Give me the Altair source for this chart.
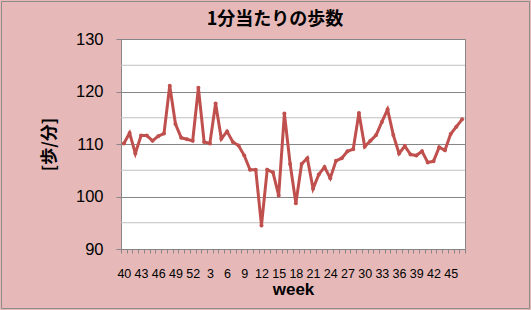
import json
import altair as alt
import pandas as pd

weeks = [40, 41, 42, 43, 44, 45, 46, 47, 48, 49, 50, 51, 52,
         1, 2, 3, 4, 5, 6, 7, 8, 9, 10, 11, 12, 13, 14, 15, 16, 17, 18, 19, 20,
         21, 22, 23, 24, 25, 26, 27, 28, 29, 30, 31, 32, 33, 34, 35, 36, 37, 38,
         39, 40, 41, 42, 43, 44, 45, 46, 47]
steps = [110.1, 112.1, 108.2, 111.6, 111.6, 110.6, 111.5, 112.0, 121.1, 113.8,
         111.2, 110.9, 110.6,
         120.7, 110.4, 110.1, 117.7, 111.0, 112.4, 110.4, 109.7, 107.8, 105.1,
         105.1, 94.5, 105.1, 104.6, 100.2, 115.8, 106.2, 98.7, 106.2, 107.3,
         101.5, 104.2, 105.6, 103.5, 106.8, 107.3, 108.6, 109.0, 115.9, 109.5,
         110.6, 111.7, 114.2, 116.6, 111.7, 108.2, 109.6, 108.0, 107.8, 108.6,
         106.5, 106.7, 109.4, 108.8, 111.9, 113.3, 114.7]
major_ticks = [90, 100, 110, 120, 130]
minor_grid = [95, 105, 115, 125]

df = pd.DataFrame({"idx": list(range(len(weeks))), "week": weeks, "steps": steps})
labels_js = json.dumps([str(w) for w in weeks])

LINE = "#C0504D"
GRID = "#868686"
MINOR = "#BFBFBF"

x_enc = alt.X(
    "idx:O",
    scale=alt.Scale(type="band", paddingInner=0, paddingOuter=0),
    axis=alt.Axis(
        title="week",
        labelExpr=f"datum.value % 3 == 0 ? {labels_js}[datum.value] : ''",
        labelAngle=0,
        labelOverlap=False,
        tickBand="extent",
        tickSize=4,
        tickColor=GRID,
        domainColor=GRID,
        labelFont="Liberation Sans",
        labelFontSize=12.5,
        labelColor="#000000",
        labelPadding=14,
        titleFont="Liberation Sans",
        titleFontSize=17,
        titleFontWeight="bold",
        titleColor="#000000",
        titlePadding=2,
        grid=False,
    ),
)

y_scale = alt.Scale(domain=[90, 130], nice=False, zero=False)

line = alt.Chart(df).mark_line(
    color=LINE, strokeWidth=3,
    point=alt.OverlayMarkDef(color=LINE, filled=True, size=16),
).encode(
    x=x_enc,
    y=alt.Y(
        "steps:Q",
        scale=y_scale,
        axis=alt.Axis(
            values=major_ticks,
            title="[歩/分]",
            grid=True,
            gridColor=GRID,
            tickSize=5,
            tickColor=GRID,
            domainColor=GRID,
            labelFont="Liberation Sans",
            labelFontSize=16.5,
            labelColor="#000000",
            labelPadding=13,
            titleFont="Noto Sans CJK JP",
            titleFontSize=17,
            titleFontWeight="bold",
            titleColor="#000000",
            titlePadding=17,
        ),
    ),
)

minor = alt.Chart(pd.DataFrame({"g": minor_grid})).mark_rule(
    color=MINOR, strokeWidth=1
).encode(y=alt.Y("g:Q", scale=y_scale))

border = alt.Chart(alt.Data(values=[{}])).mark_rect(
    fill=None, stroke="#8C8C8C", strokeWidth=1
).encode(
    x=alt.value(-119.5), x2=alt.value(408.5),
    y=alt.value(-37.5), y2=alt.value(269.5),
)

chart = alt.layer(minor, line, border).properties(
    width=344,
    height=210,
    title=alt.TitleParams(
        text="1分当たりの歩数",
        font="Noto Sans CJK JP",
        fontSize=18,
        fontWeight="bold",
        color="#000000",
        anchor="middle",
        dx=-18,
        offset=-28,
    ),
    autosize=alt.AutoSizeParams(type="none"),
    padding={"left": 121, "top": 39, "right": 66, "bottom": 61},
    background="#E6B9B8",
).configure_view(
    stroke=GRID, strokeWidth=1, fill="#FFFFFF"
)

chart.save("out.html", embed_options={"renderer": "svg", "actions": False})
